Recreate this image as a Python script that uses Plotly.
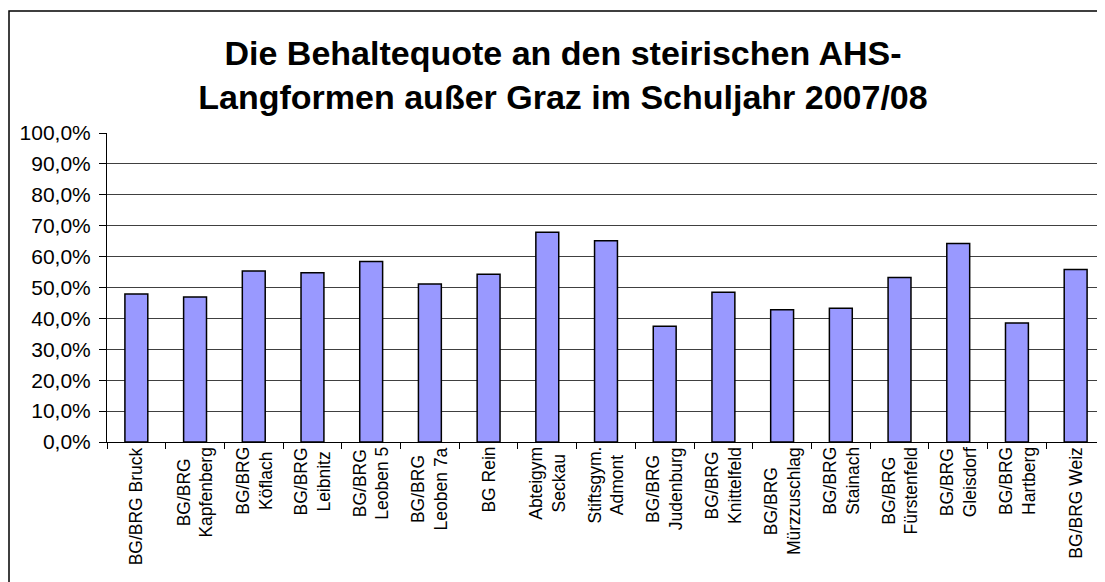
import plotly.graph_objects as go

schools = [
    "BG/BRG Bruck", "BG/BRG<br>Kapfenberg", "BG/BRG<br>Köflach", "BG/BRG<br>Leibnitz",
    "BG/BRG<br>Leoben 5", "BG/BRG<br>Leoben 7a", "BG Rein", "Abteigym<br>Seckau",
    "Stiftsgym.<br>Admont", "BG/BRG<br>Judenburg", "BG/BRG<br>Knittelfeld",
    "BG/BRG<br>Mürzzuschlag", "BG/BRG<br>Stainach", "BG/BRG<br>Fürstenfeld",
    "BG/BRG<br>Gleisdorf", "BG/BRG<br>Hartberg", "BG/BRG Weiz",
]
quote = [0.479, 0.469, 0.553, 0.548, 0.584, 0.511, 0.543, 0.679, 0.651,
         0.375, 0.485, 0.428, 0.433, 0.532, 0.642, 0.385, 0.558]
y_ticks = [0, 0.1, 0.2, 0.3, 0.4, 0.5, 0.6, 0.7, 0.8, 0.9, 1.0]
title_text = "Die Behaltequote an den steirischen AHS-<br>Langformen außer Graz im Schuljahr 2007/08"

# the page body adds an 8px margin, so the figure is drawn 8px smaller
W, H = 1097, 574
L, R, T, B = 99, 0, 125, 140
pw, ph = W - L - R, H - T - B

fig = go.Figure()
fig.add_trace(go.Bar(
    x=schools, y=quote,
    marker=dict(color="#9999FF", line=dict(color="black", width=1.5)),
    hoverinfo="x+y",
))

for s in schools:
    fig.add_annotation(
        x=s, xref="x", y=0, yref="paper", yanchor="top", xanchor="center",
        yshift=-3, text=s, textangle=-90, align="center", showarrow=False,
        font=dict(family="Liberation Sans, Arial", size=17.5, color="black"),
    )

# outer chart frame (left/top visible, right/bottom beyond the picture)
fig.add_shape(
    type="rect", xref="paper", yref="paper",
    x0=(1 - L) / pw, x1=(W + 20 - L) / pw,
    y0=(H - B - (H + 20)) / ph, y1=(H - B - 3) / ph,
    line=dict(color="black", width=1.5), fillcolor="rgba(0,0,0,0)", layer="below",
)

fig.update_layout(
    width=W, height=H,
    margin=dict(l=L, r=R, t=T, b=B),
    paper_bgcolor="white", plot_bgcolor="white",
    separators=",.",
    bargap=0.61,
    showlegend=False,
    font=dict(family="Liberation Sans, Arial", color="black"),
    title=dict(
        text=title_text, xref="container", x=555 / W, xanchor="center",
        yref="container", y=1 - 57 / H, yanchor="top",
        font=dict(family="Liberation Sans, Arial", size=34, color="black", weight="bold"),
    ),
)
fig.update_xaxes(
    type="category", showticklabels=False, ticks="outside", tickson="boundaries",
    ticklen=6, tickcolor="black", showline=True, linecolor="black", linewidth=1,
    showgrid=False, range=[-0.5, len(schools) - 0.5],
)
fig.update_yaxes(
    range=[0, 1], tickvals=y_ticks, tickformat=".1%",
    ticks="outside", ticklen=7, tickcolor="black",
    showline=True, linecolor="black", linewidth=1,
    showgrid=True, gridcolor="#404040", gridwidth=1,
    tickfont=dict(family="Liberation Sans, Arial", size=21, color="black"),
    ticklabelstandoff=4, zeroline=False,
)

fig.write_html("out.html")
